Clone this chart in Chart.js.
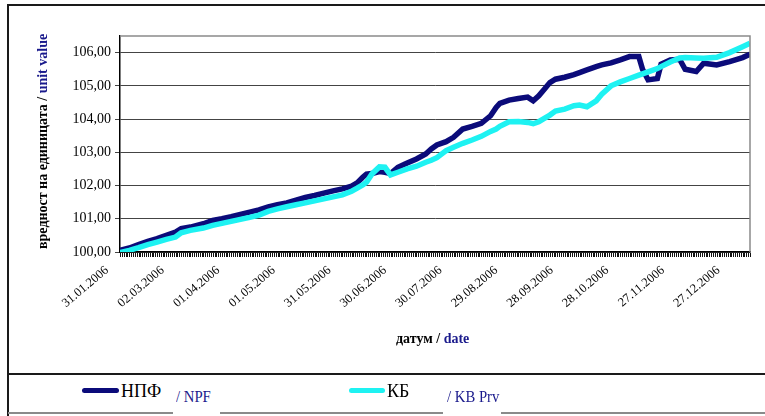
<!DOCTYPE html>
<html>
<head>
<meta charset="utf-8">
<script src="https://cdn.jsdelivr.net/npm/chart.js@4.4.1/dist/chart.umd.min.js"></script>
<style>
  html, body { margin: 0; padding: 0; background: #fff; }
  body { width: 765px; height: 416px; position: relative; overflow: hidden;
         font-family: 'Liberation Serif', 'Times New Roman', serif; }
  #wrap { position: absolute; left: 0; top: 0; width: 765px; height: 370px; }
  .ln { position: absolute; background: #1a1a1a; }
  .ytitle { position: absolute; left: -64px; top: 134px; width: 214px; height: 16px; line-height: 16px;
            transform: rotate(-90deg); text-align: center; white-space: nowrap;
            font-weight: bold; font-size: 14px; color: #000; }
  .xtitle { position: absolute; left: 396px; top: 331px; line-height: 16px; white-space: nowrap;
            font-weight: bold; font-size: 14px; color: #000; }
  .blue { color: #1a1a8c; }
  .lg { position: absolute; white-space: nowrap; }
  .lg.big { font-size: 18px; line-height: 18px; color: #000; top: 382px; }
  .lg.small { font-size: 16px; line-height: 16px; color: #1a1a8c; top: 389px; transform: scaleX(0.92); transform-origin: left; }
  .swatch { position: absolute; height: 5px; border-radius: 3px; top: 388px; }
</style>
</head>
<body>
<div id="wrap"><canvas id="chart"></canvas></div>

<!-- frame around the chart object -->
<div class="ln" style="left:8px; top:4px; width:757px; height:2px;"></div>
<div class="ln" style="left:7px; top:4px; width:2px; height:412px;"></div>
<div class="ln" style="left:8px; top:373px; width:757px; height:2px;"></div>
<div class="ln" style="left:8px; top:412px; width:757px; height:2px; background:#8a8a8a;"></div>
<div class="ln" style="left:173px; top:411px; width:47px; height:4px; background:#fff;"></div>
<div class="ln" style="left:443px; top:411px; width:58px; height:4px; background:#fff;"></div>

<div class="ytitle">вредност на единицата / <span class="blue">unit value</span></div>
<div class="xtitle">датум / <span class="blue">date</span></div>

<div class="swatch" style="left:82px; width:37px; background:#0b0b7a;"></div>
<div class="lg big" style="left:121px;">НПФ</div>
<div class="lg small" style="left:176px;">/ NPF</div>
<div class="swatch" style="left:349px; width:36px; background:#1ef2f2;"></div>
<div class="lg big" style="left:387px;">КБ</div>
<div class="lg small" style="left:447px;">/ KB Prv</div>

<script>
// дни от 31.01.2006
const days = [0, 5, 10, 15, 20, 25, 30, 33, 38, 45, 50, 55, 60, 65, 70, 75, 80, 85, 90, 95,
  100, 105, 110, 115, 120, 125, 128, 131, 133, 136, 140, 143, 146, 150, 155, 160, 165, 168, 171, 176,
  180, 185, 190, 195, 200, 203, 205, 210, 215, 220, 223, 226, 229, 232, 235, 240, 245, 248, 252, 257,
  260, 265, 270, 275, 280, 282, 285, 290, 292, 297, 302, 305, 311, 315, 322, 329, 336, 340];

// НПФ / NPF
const npf = [100.05, 100.12, 100.22, 100.32, 100.40, 100.50, 100.60, 100.70, 100.75, 100.85,
  100.95, 101.00, 101.06, 101.13, 101.20, 101.27, 101.36, 101.42, 101.48, 101.56,
  101.64, 101.70, 101.77, 101.84, 101.90, 101.98, 102.08, 102.25, 102.34, 102.36,
  102.42, 102.40, 102.36, 102.55, 102.68, 102.80, 102.95, 103.10, 103.22, 103.32,
  103.45, 103.70, 103.78, 103.87, 104.10, 104.35, 104.47, 104.57, 104.62, 104.66,
  104.55, 104.70, 104.90, 105.10, 105.20, 105.26, 105.34, 105.40, 105.48, 105.58,
  105.63, 105.69, 105.78, 105.88, 105.88, 105.50, 105.18, 105.22, 105.65, 105.78,
  105.80, 105.50, 105.43, 105.68, 105.63, 105.73, 105.85, 105.95];

// КБ / KB Prv
const kb = [99.98, 100.05, 100.13, 100.22, 100.30, 100.38, 100.45, 100.58, 100.65, 100.72,
  100.80, 100.86, 100.92, 100.98, 101.04, 101.11, 101.22, 101.30, 101.36, 101.42,
  101.48, 101.54, 101.60, 101.66, 101.72, 101.83, 101.92, 102.02, 102.10, 102.35,
  102.56, 102.55, 102.32, 102.40, 102.50, 102.58, 102.70, 102.76, 102.84, 103.05,
  103.15, 103.27, 103.37, 103.48, 103.63, 103.70, 103.78, 103.92, 103.93, 103.90,
  103.86, 103.92, 104.02, 104.12, 104.24, 104.30, 104.40, 104.42, 104.37, 104.55,
  104.75, 105.00, 105.12, 105.22, 105.32, 105.36, 105.42, 105.52, 105.58, 105.72,
  105.84, 105.85, 105.84, 105.83, 105.86, 106.00, 106.18, 106.28];

const tickLabels = ['31.01.2006', '02.03.2006', '01.04.2006', '01.05.2006', '31.05.2006', '30.06.2006',
  '30.07.2006', '29.08.2006', '28.09.2006', '28.10.2006', '27.11.2006', '27.12.2006'];

// сива рамка горе/вдясно + гъсти деления по оста x (по едно на ден)
const plotFrame = {
  id: 'plotFrame',
  afterDraw(chart) {
    const { ctx, chartArea: a } = chart;
    const xs = chart.scales.x;
    ctx.save();
    ctx.strokeStyle = '#8a8a8a';
    ctx.lineWidth = 1.5;
    ctx.beginPath();
    ctx.moveTo(a.left, a.top);
    ctx.lineTo(a.right, a.top);
    ctx.lineTo(a.right, a.bottom);
    ctx.stroke();
    ctx.fillStyle = '#111';
    for (let d = 0; d <= 340; d++) {
      const px = Math.round(xs.getPixelForValue(d));
      ctx.fillRect(px, a.bottom + 1, 1, 4);
    }
    ctx.restore();
  }
};

new Chart(document.getElementById('chart'), {
  type: 'line',
  data: {
    datasets: [
      {
        label: 'НПФ / NPF',
        data: days.map((d, i) => ({ x: d, y: npf[i] })),
        borderColor: '#0b0b7a',
        borderWidth: 5.5,
        pointRadius: 0,
        order: 2,
      },
      {
        label: 'КБ / KB Prv',
        data: days.map((d, i) => ({ x: d, y: kb[i] })),
        borderColor: '#1ef2f2',
        borderWidth: 5.5,
        pointRadius: 0,
        order: 1,
      },
    ],
  },
  options: {
    responsive: true,
    maintainAspectRatio: false,
    animation: false,
    layout: { padding: { left: 0, top: 36, right: 15, bottom: 48 } },
    plugins: { legend: { display: false }, tooltip: { enabled: false } },
    scales: {
      x: {
        type: 'linear',
        min: 0,
        max: 340,
        afterFit(s) { s.height = 70; s.paddingLeft = 0; s.paddingRight = 0; },
        border: { color: '#000', width: 1.5 },
        grid: { drawOnChartArea: false, drawTicks: false },
        ticks: {
          stepSize: 30,
          includeBounds: false,
          autoSkip: false,
          minRotation: 40,
          maxRotation: 40,
          padding: 11,
          labelOffset: -13,
          color: '#000',
          font: { family: "'Liberation Serif'", size: 12.5 },
          callback: (v) => tickLabels[v / 30] || '',
        },
      },
      y: {
        min: 100,
        max: 106.5,
        afterFit(s) { s.width = 120; },
        border: { color: '#000', width: 1.5 },
        grid: { color: '#444', tickLength: 5 },
        ticks: {
          stepSize: 1,
          includeBounds: false,
          padding: 4,
          color: '#000',
          font: { family: "'Liberation Serif'", size: 14 },
          callback: (v) => v.toFixed(2).replace('.', ','),
        },
      },
    },
  },
  plugins: [plotFrame],
});
</script>
</body>
</html>
